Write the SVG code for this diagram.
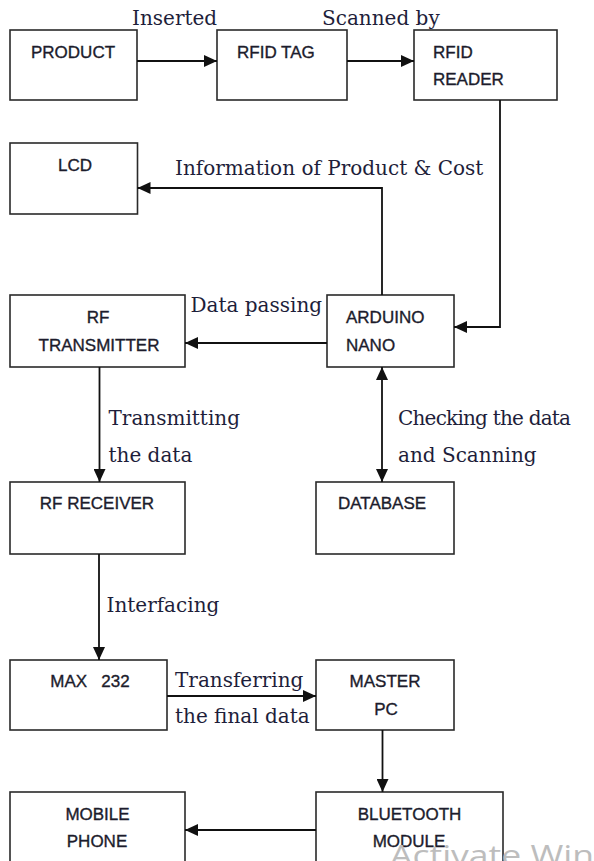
<svg xmlns="http://www.w3.org/2000/svg" width="594" height="861" viewBox="0 0 594 861">
<style>
.box{fill:#fff;stroke:#2a2a2a;stroke-width:1.6}
.bl{font-family:"Liberation Sans",Arial,sans-serif;font-size:17px;fill:#1c1c2c;stroke:#1c1c2c;stroke-width:0.35}
.lb{font-family:"DejaVu Serif","Liberation Serif",serif;font-size:20px;fill:#1e1e3a}
.c{text-anchor:middle}
.wire{fill:none;stroke:#111;stroke-width:1.8}
.wm{font-family:"Open Sans","Noto Sans",sans-serif;font-size:30px;fill:#bdbdbd}
</style>
<defs>
<marker id="ah" markerUnits="userSpaceOnUse" markerWidth="14" markerHeight="12" refX="13" refY="6" orient="auto-start-reverse" viewBox="0 0 14 12">
<path d="M0,0 L13,6 L0,12 Z" fill="#111"/>
</marker>
</defs>
<rect width="594" height="861" fill="#fff"/>

<g id="product"><rect class="box" x="10" y="30" width="127" height="70"/><text class="bl" x="31" y="58">PRODUCT</text></g>
<g id="rfid-tag"><rect class="box" x="217" y="30" width="130" height="70"/><text class="bl" x="237" y="58">RFID TAG</text></g>
<g id="rfid-reader"><rect class="box" x="414" y="30" width="143" height="70"/><text class="bl" x="433" y="58">RFID</text><text class="bl" x="433" y="85">READER</text></g>
<g id="lcd"><rect class="box" x="10" y="143" width="127.5" height="71"/><text class="bl c" x="75" y="171">LCD</text></g>
<g id="rf-transmitter"><rect class="box" x="10" y="295" width="175" height="72"/><text class="bl c" x="98" y="323">RF</text><text class="bl c" x="99" y="351">TRANSMITTER</text></g>
<g id="arduino-nano"><rect class="box" x="327" y="295" width="127" height="72"/><text class="bl" x="346" y="323">ARDUINO</text><text class="bl" x="346" y="351">NANO</text></g>
<g id="rf-receiver"><rect class="box" x="10" y="482" width="175" height="72"/><text class="bl c" x="97" y="509">RF RECEIVER</text></g>
<g id="database"><rect class="box" x="316" y="482" width="138" height="72"/><text class="bl c" x="382" y="509">DATABASE</text></g>
<g id="max232"><rect class="box" x="10" y="660" width="157" height="70"/><text class="bl c" x="90" y="687" style="white-space:pre">MAX   232</text></g>
<g id="master-pc"><rect class="box" x="316" y="660" width="138" height="70"/><text class="bl c" x="385" y="687">MASTER</text><text class="bl c" x="386" y="715">PC</text></g>
<g id="mobile-phone"><rect class="box" x="10" y="792" width="175" height="80"/><text class="bl c" x="97.5" y="820">MOBILE</text><text class="bl c" x="97" y="847">PHONE</text></g>
<g id="bluetooth-module"><rect class="box" x="316" y="792" width="187" height="80"/><text class="bl c" x="409.5" y="820">BLUETOOTH</text><text class="bl c" x="409" y="847">MODULE</text></g>

<g id="connectors">
<path class="wire" d="M137,61 H217" marker-end="url(#ah)"/>
<path class="wire" d="M347,61 H414" marker-end="url(#ah)"/>
<path class="wire" d="M500,100 V327 H454" marker-end="url(#ah)"/>
<path class="wire" d="M382,295 V188 H137.5" marker-end="url(#ah)"/>
<path class="wire" d="M327,343 H185" marker-end="url(#ah)"/>
<path class="wire" d="M382,367 V482" marker-start="url(#ah)" marker-end="url(#ah)"/>
<path class="wire" d="M99.5,367 V482" marker-end="url(#ah)"/>
<path class="wire" d="M99,554 V660" marker-end="url(#ah)"/>
<path class="wire" d="M167,696 H316" marker-end="url(#ah)"/>
<path class="wire" d="M382.5,730 V792" marker-end="url(#ah)"/>
<path class="wire" d="M316,830 H185" marker-end="url(#ah)"/>
</g>

<g id="labels">
<text class="lb" x="132" y="25">Inserted</text>
<text class="lb" x="322" y="25">Scanned by</text>
<text class="lb" x="175" y="175">Information of Product &amp; Cost</text>
<text class="lb" x="190.5" y="312">Data passing</text>
<text class="lb" x="108.5" y="425">Transmitting</text>
<text class="lb" x="108.5" y="462">the data</text>
<text class="lb" x="398" y="425" textLength="173" lengthAdjust="spacing">Checking the data</text>
<text class="lb" x="398" y="462">and Scanning</text>
<text class="lb" x="106.5" y="611.5">Interfacing</text>
<text class="lb" x="175" y="687">Transferring</text>
<text class="lb" x="175" y="723">the final data</text>
</g>
<text class="wm" x="390" y="866" textLength="204" lengthAdjust="spacingAndGlyphs">Activate Win</text>
</svg>
